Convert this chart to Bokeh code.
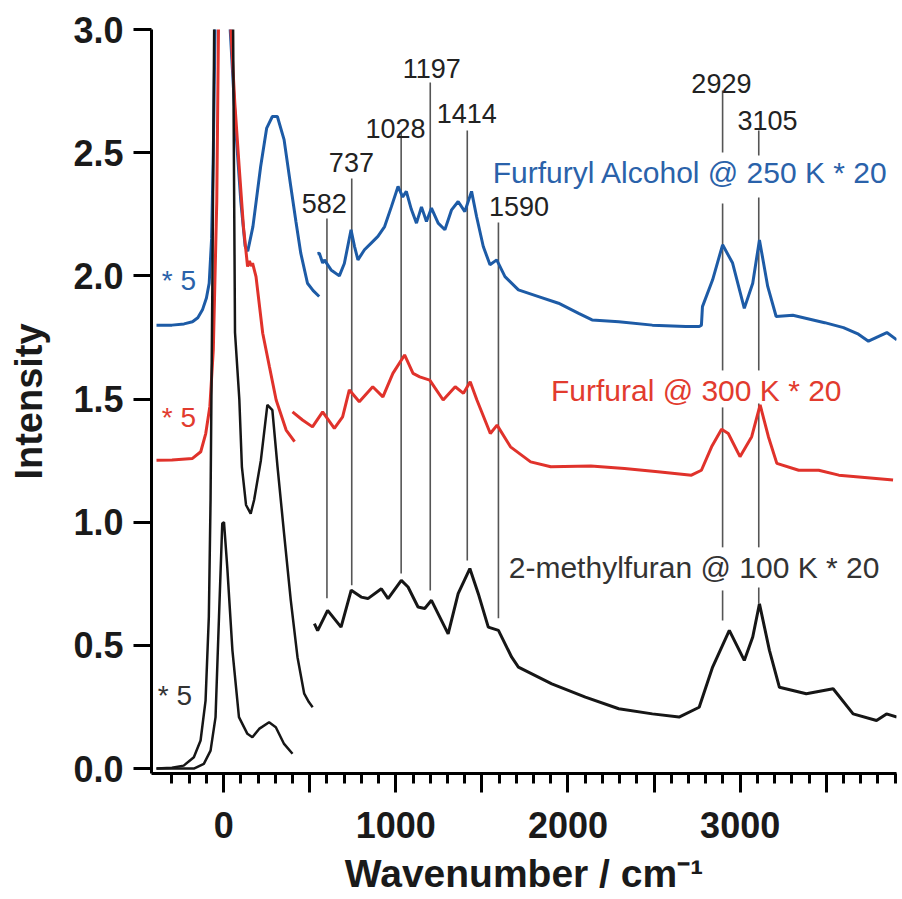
from bokeh.plotting import figure
from bokeh.models import Range1d, FixedTicker, PrintfTickFormatter
from bokeh.embed import file_html
from bokeh.resources import INLINE
from bokeh.core.properties import value

# ---------------- data ----------------
# Furfuryl alcohol (blue), low-wavenumber part (* 5) and main part (* 20)
blue_lo_x = [-390, -300, -230, -181, -150, -123, -100, -84, -70, -60, -50, 0, 38, 70, 100, 125, 140, 170, 215, 250, 283, 312, 351, 390, 420, 448, 487, 520, 555]
blue_lo_y = [1.80, 1.80, 1.805, 1.814, 1.83, 1.862, 1.91, 1.97, 2.15, 2.5, 3.0, 6.5, 3.0, 2.6, 2.3, 2.12, 2.10, 2.2, 2.444, 2.6, 2.647, 2.647, 2.553, 2.363, 2.22, 2.092, 1.97, 1.94, 1.916]
blue_x = [545, 556, 575, 585, 624, 672, 701, 740, 760, 780, 818, 857, 896, 935, 974, 1013, 1040, 1061, 1090, 1120, 1149, 1178, 1207, 1246, 1285, 1324, 1362, 1401, 1440, 1469, 1508, 1547, 1586, 1634, 1712, 1829, 1945, 2062, 2140, 2295, 2490, 2684, 2762, 2775, 2781, 2840, 2898, 2956, 3024, 3073, 3112, 3160, 3209, 3306, 3491, 3600, 3687, 3745, 3852, 3910]
blue_y = [2.09, 2.092, 2.052, 2.065, 2.024, 2.0, 2.05, 2.187, 2.12, 2.065, 2.106, 2.133, 2.16, 2.2, 2.28, 2.363, 2.32, 2.343, 2.27, 2.214, 2.28, 2.221, 2.275, 2.214, 2.187, 2.268, 2.302, 2.261, 2.343, 2.241, 2.119, 2.045, 2.065, 1.997, 1.943, 1.916, 1.889, 1.848, 1.821, 1.814, 1.80, 1.794, 1.794, 1.80, 1.875, 1.984, 2.126, 2.052, 1.868, 1.97, 2.146, 1.957, 1.835, 1.84, 1.81, 1.79, 1.763, 1.735, 1.77, 1.74]

# Furfural (red)
red_lo_x = [-390, -300, -181, -133, -104, -80, -60, -40, -30, 0, 42, 65, 90, 115, 139, 150, 160, 168, 188, 227, 266, 305, 363, 412]
red_lo_y = [1.252, 1.253, 1.259, 1.286, 1.36, 1.47, 1.7, 2.3, 3.0, 6.0, 3.0, 2.7, 2.444, 2.2, 2.038, 2.06, 2.04, 2.052, 1.997, 1.767, 1.631, 1.496, 1.374, 1.327]
red_x = [400, 458, 516, 575, 643, 691, 730, 788, 866, 925, 983, 1051, 1100, 1139, 1197, 1275, 1345, 1393, 1432, 1471, 1549, 1588, 1666, 1783, 1900, 2133, 2328, 2522, 2717, 2775, 2834, 2892, 2931, 2999, 3067, 3116, 3164, 3213, 3340, 3456, 3573, 3690, 3888]
red_y = [1.448, 1.415, 1.387, 1.448, 1.381, 1.428, 1.537, 1.489, 1.55, 1.509, 1.604, 1.679, 1.604, 1.59, 1.577, 1.496, 1.55, 1.523, 1.57, 1.496, 1.36, 1.394, 1.306, 1.245, 1.225, 1.228, 1.218, 1.205, 1.191, 1.211, 1.306, 1.377, 1.36, 1.266, 1.347, 1.476, 1.347, 1.239, 1.211, 1.211, 1.191, 1.184, 1.171]

# 2-methylfuran (black): two low-wavenumber traces and main part
black_a_x = [-390, -300, -232, -173, -134, -105, -86, -76, -65, -55, 0, 55, 66, 91, 106, 130, 157, 177, 216, 254, 283, 313, 351, 390, 429, 468, 495, 517]
black_a_y = [0.0, 0.003, 0.012, 0.046, 0.114, 0.276, 0.615, 1.09, 2.0, 3.0, 7.0, 3.0, 1.77, 1.5, 1.225, 1.07, 1.035, 1.09, 1.25, 1.476, 1.455, 1.225, 0.954, 0.683, 0.452, 0.304, 0.27, 0.249]
black_b_x = [-390, -173, -115, -76, -47, -27, -8, 2, 21, 51, 89, 138, 167, 206, 264, 303, 351, 400]
black_b_y = [0.0, 0.0, 0.019, 0.073, 0.209, 0.615, 0.995, 1.0, 0.818, 0.48, 0.209, 0.141, 0.127, 0.161, 0.188, 0.168, 0.10, 0.06]
black_x = [527, 546, 604, 682, 741, 799, 838, 916, 955, 1032, 1071, 1129, 1168, 1207, 1304, 1362, 1430, 1479, 1537, 1596, 1673, 1712, 1906, 2101, 2295, 2490, 2645, 2762, 2840, 2937, 3024, 3073, 3112, 3170, 3228, 3384, 3540, 3656, 3792, 3850, 3910]
black_y = [0.588, 0.56, 0.642, 0.574, 0.724, 0.696, 0.69, 0.73, 0.69, 0.764, 0.737, 0.656, 0.65, 0.683, 0.547, 0.71, 0.812, 0.71, 0.574, 0.561, 0.452, 0.412, 0.344, 0.29, 0.243, 0.222, 0.209, 0.249, 0.412, 0.561, 0.439, 0.534, 0.669, 0.48, 0.33, 0.304, 0.324, 0.222, 0.195, 0.222, 0.209]

# peak markers
peak_labels = ["582", "737", "1028", "1197", "1414", "1590", "2929", "3105"]
peak_label_x = [585, 742, 998, 1209, 1412, 1716, 2891, 3159]
peak_label_y = [2.294, 2.46, 2.60, 2.84, 2.66, 2.28, 2.78, 2.63]
seg_x = [600, 744, 1031, 1200, 1415, 1596, 2898, 2898, 2898, 2898, 3108, 3108, 3108, 3108]
seg_top = [2.233, 2.395, 2.582, 2.785, 2.590, 2.217, 2.752, 2.294, 1.466, 0.723, 2.590, 2.318, 1.482, 0.735]
seg_bottom = [0.691, 0.744, 0.792, 0.723, 0.845, 0.610, 2.501, 1.616, 0.898, 0.601, 2.489, 1.616, 0.898, 0.670]

# series labels
series_labels = ["Furfuryl Alcohol @ 250 K * 20", "Furfural @ 300 K * 20", "2-methylfuran @ 100 K * 20"]
series_label_x = [1563, 1901, 1656]
series_label_y = [2.42, 1.535, 0.817]
scale_labels = ["* 5", "* 5", "* 5"]
scale_label_x = [-359, -359, -382]
scale_label_y = [1.98, 1.425, 0.297]

x_ticks = [0, 500, 1000, 1500, 2000, 2500, 3000, 3500]
x_tick_labels = ["0", "", "1000", "", "2000", "", "3000", ""]
x_minor = list(range(-300, 3901, 100))
y_ticks = [0.0, 0.5, 1.0, 1.5, 2.0, 2.5, 3.0]
x_title = "Wavenumber / cm\u207b\u00b9"
y_title = "Intensity"

BLUE = "#1d5ba6"
RED = "#e0322b"
BLACK = "#161616"
FONT = "Liberation Sans"

p = figure(width=900, height=899, output_backend="svg", toolbar_location=None,
           x_range=Range1d(-419, 3908), y_range=Range1d(-0.02, 3.0),
           min_border_left=151, min_border_right=4, min_border_top=29, min_border_bottom=126)
p.outline_line_color = None
p.grid.visible = False
p.background_fill_color = "white"

# axes
xa = p.xaxis[0]
xa.ticker = FixedTicker(ticks=x_ticks, minor_ticks=x_minor)
xa.major_label_overrides = {t: l for t, l in zip(x_ticks, x_tick_labels)}
ya = p.yaxis[0]
ya.ticker = FixedTicker(ticks=y_ticks, minor_ticks=[])
ya.formatter = PrintfTickFormatter(format="%.1f")
for ax in (xa, ya):
    ax.axis_line_width = 3
    ax.axis_line_color = "black"
    ax.major_tick_line_width = 3
    ax.minor_tick_line_width = 3
    ax.major_tick_in = 0
    ax.minor_tick_in = 0
    ax.major_label_text_font = FONT
    ax.major_label_text_font_style = "bold"
    ax.major_label_text_font_size = "36px"
    ax.major_label_text_color = "#1a1a1a"
    ax.axis_label_text_font = FONT
    ax.axis_label_text_font_style = "bold"
    ax.axis_label_text_color = "#1a1a1a"
xa.major_tick_out = 19
xa.minor_tick_out = 10
xa.major_label_standoff = 19
xa.axis_label = x_title
xa.axis_label_text_font_size = "39px"
xa.axis_label_standoff = 11
ya.major_tick_out = 18
ya.minor_tick_out = 0
ya.major_label_standoff = 10
ya.axis_label = y_title
ya.axis_label_text_font_size = "38px"
ya.axis_label_standoff = 20

# peak marker lines
p.segment(x0=seg_x, y0=seg_bottom, x1=seg_x, y1=seg_top, line_color="#555555", line_width=1.6)

# spectra
lw = 3
p.line(blue_lo_x, blue_lo_y, line_color=BLUE, line_width=lw)
p.line(blue_x, blue_y, line_color=BLUE, line_width=lw)
p.line(red_lo_x, red_lo_y, line_color=RED, line_width=lw)
p.line(red_x, red_y, line_color=RED, line_width=lw)
p.line(black_a_x, black_a_y, line_color=BLACK, line_width=2.5)
p.line(black_b_x, black_b_y, line_color=BLACK, line_width=2.5)
p.line(black_x, black_y, line_color=BLACK, line_width=lw)

# texts
p.text(x=peak_label_x, y=peak_label_y, text=peak_labels, text_font=value(FONT),
       text_font_size="27px", text_color="#222222", text_align="center", text_baseline="middle")
p.text(x=series_label_x, y=series_label_y, text=series_labels, text_font=value(FONT),
       text_font_size="30px", text_color=["#2a62aa", "#e23b2e", "#333333"],
       text_align="left", text_baseline="middle")
p.text(x=scale_label_x, y=scale_label_y, text=scale_labels, text_font=value(FONT),
       text_font_size="28px", text_color=["#2a62aa", "#e23b2e", "#333333"],
       text_align="left", text_baseline="middle")

open("out.html", "w").write(file_html(p, INLINE))
